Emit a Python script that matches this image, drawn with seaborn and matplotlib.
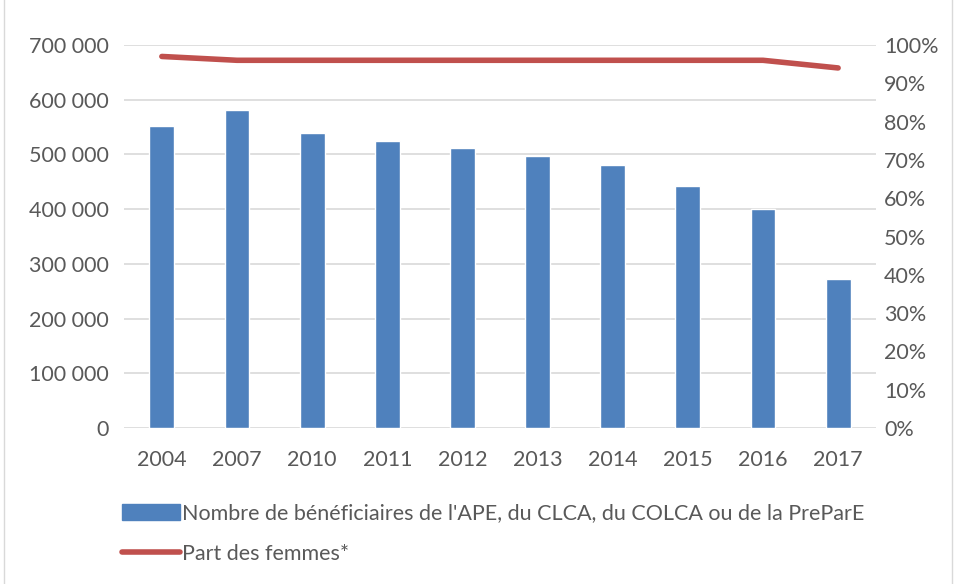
import pandas as pd
import seaborn as sns
import matplotlib.pyplot as plt
from matplotlib.ticker import FuncFormatter, MultipleLocator
from matplotlib.patches import Patch
from matplotlib.lines import Line2D

# === Data ===
years = ["2004", "2007", "2010", "2011", "2012", "2013", "2014", "2015", "2016", "2017"]
beneficiaires = [552000, 581000, 539000, 524000, 511000, 498000, 480000, 443000, 400000, 272000]
part_femmes = [97, 96, 96, 96, 96, 96, 96, 96, 96, 94]

bar_label = "Nombre de bénéficiaires de l'APE, du CLCA, du COLCA ou de la PreParE"
line_label = "Part des femmes*"

df = pd.DataFrame({"annee": years, "nb": beneficiaires, "part": part_femmes})

# === Style ===
sns.set_theme(style="white")
plt.rcParams["font.family"] = ["Lato", "DejaVu Sans"]
txt = "#595959"
bar_color = "#4F81BD"
line_color = "#C0504D"
fs = 15.5

fig = plt.figure(figsize=(9.56, 5.84), dpi=100)
ax = fig.add_axes([0.13, 0.267, 0.786, 0.656])

sns.barplot(data=df, x="annee", y="nb", color=bar_color, width=0.33,
            saturation=1, ax=ax, zorder=2)
ax.set_ylim(0, 700000)
ax.yaxis.set_major_locator(MultipleLocator(100000))
ax.yaxis.set_major_formatter(FuncFormatter(lambda v, p: f"{int(v):,}".replace(",", " ")))
ax.grid(axis="y", color="#d9d9d9", linewidth=1.2, zorder=0)
ax.set_axisbelow(True)
ax.set_xlabel("")
ax.set_ylabel("")
for s in ax.spines.values():
    s.set_visible(False)
ax.tick_params(axis="both", length=0, labelsize=fs, labelcolor=txt)
ax.tick_params(axis="x", pad=16)
ax.tick_params(axis="y", pad=11)

ax2 = ax.twinx()
sns.lineplot(x=range(len(years)), y=part_femmes, color=line_color, linewidth=4,
             ax=ax2, zorder=3)
ax2.set_ylim(0, 100)
ax2.yaxis.set_major_locator(MultipleLocator(10))
ax2.yaxis.set_major_formatter(FuncFormatter(lambda v, p: f"{int(v)}%"))
for s in ax2.spines.values():
    s.set_visible(False)
ax2.tick_params(axis="y", length=0, labelsize=fs, labelcolor=txt, pad=6)
ax.set_xlim(-0.5, len(years) - 0.5)

# Chart border like the original export
fig.patches.append(plt.Rectangle((0.004, -0.01), 0.992, 1.02, transform=fig.transFigure,
                                 fill=False, edgecolor="#d9d9d9", linewidth=1))

handles = [Patch(facecolor=bar_color, edgecolor=bar_color),
           Line2D([0], [0], color=line_color, linewidth=4)]
leg = fig.legend(handles, [bar_label, line_label], loc="upper left",
                 bbox_to_anchor=(0.107, 0.171), frameon=False, ncol=1,
                 fontsize=fs, labelcolor=txt, handlelength=2.7, handletextpad=0.1,
                 labelspacing=0.95)

plt.savefig("out.png", dpi=100)
